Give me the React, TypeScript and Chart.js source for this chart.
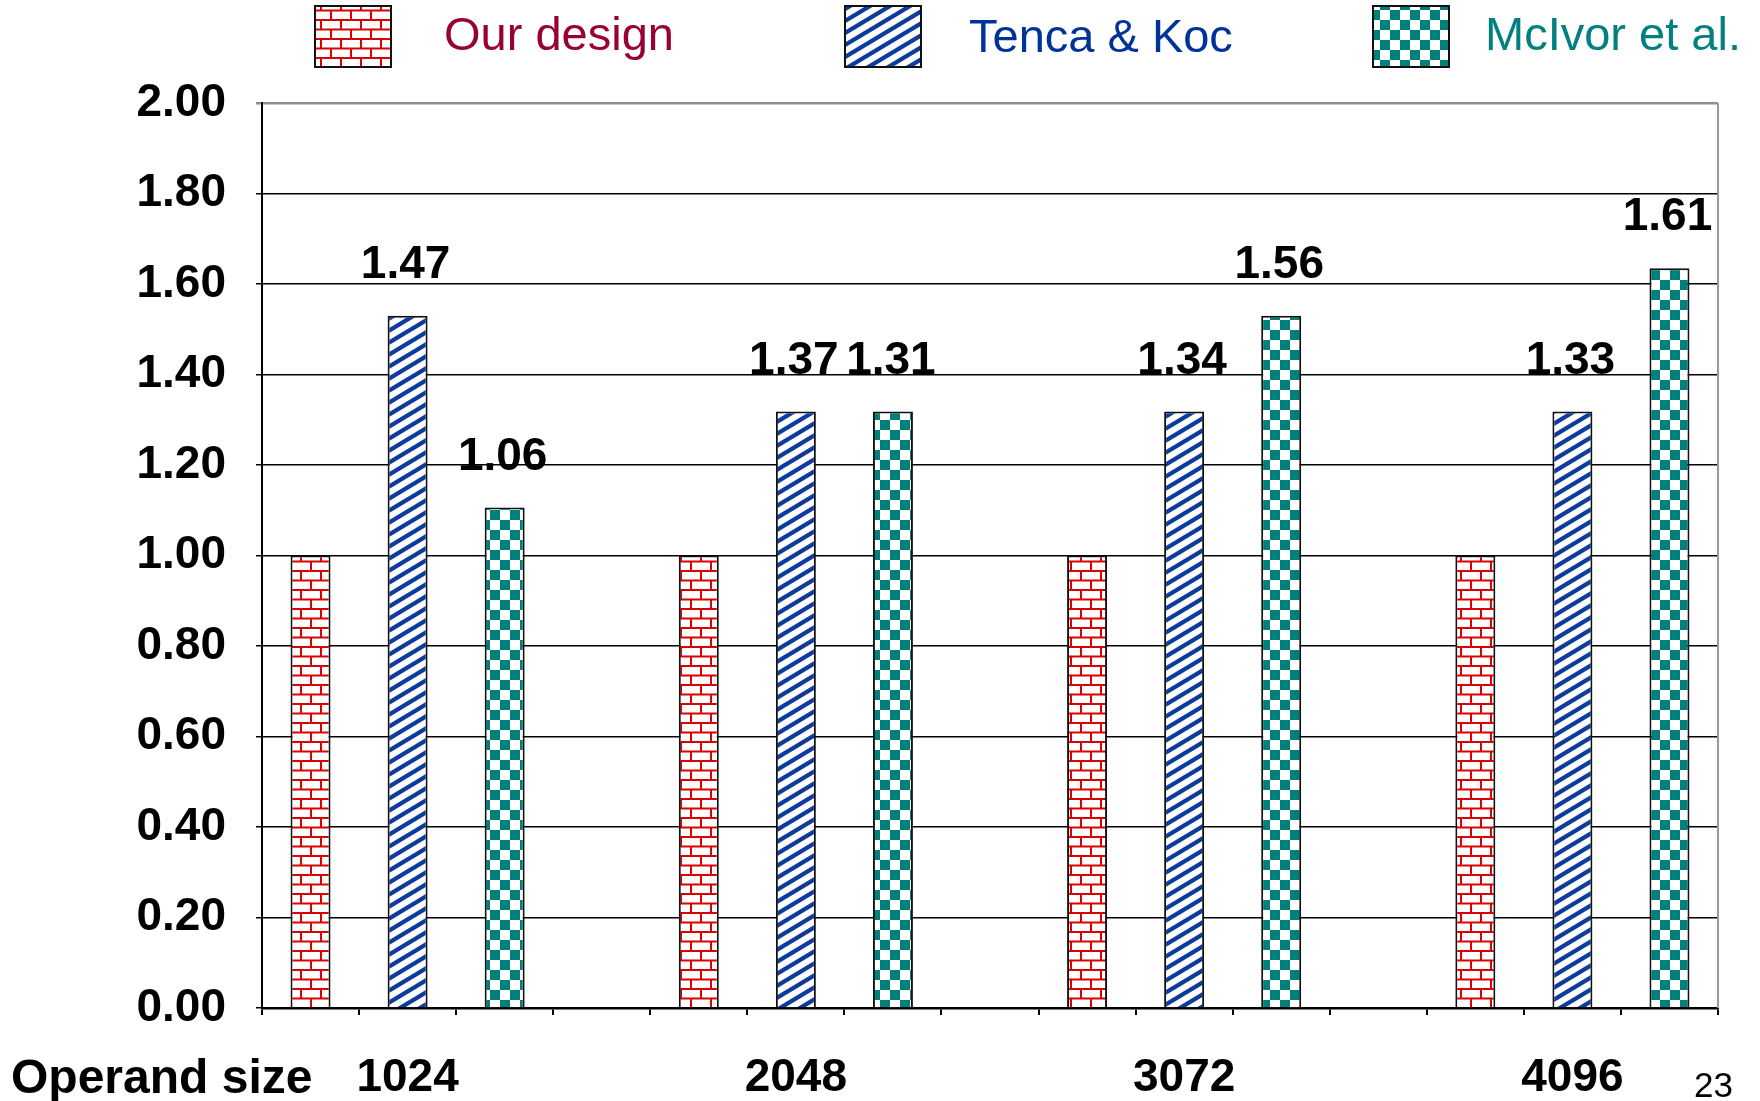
import React, { useEffect, useRef } from "react";
import { Chart, registerables } from "chart.js";

Chart.register(...registerables);

// ---------------- data ----------------
const operandSizes = ["1024", "2048", "3072", "4096"];
const seriesNames = ["Our design", "Tenca & Koc", "McIvor et al."];
const ourDesign = [1.0, 1.0, 1.0, 1.0];
const tencaKoc = [1.53, 1.318, 1.318, 1.318];
const mcIvor = [1.106, 1.318, 1.53, 1.635];
const ourDesignLabels: string[] = ["", "", "", ""];
const tencaKocLabels = ["1.47", "1.37", "1.34", "1.33"];
const mcIvorLabels = ["1.06", "1.31", "1.56", "1.61"];
const yMin = 0;
const yMax = 2;
const yStep = 0.2;
const xAxisTitle = "Operand size";
const pageNumber = "23";

const seriesValues = [ourDesign, tencaKoc, mcIvor];
const seriesLabels = [ourDesignLabels, tencaKocLabels, mcIvorLabels];
const seriesTextColors = ["#990033", "#003399", "#008080"];

const FONT = '"Liberation Sans", Arial, Helvetica, sans-serif';

// each operand size occupies 3 bar slots followed by one empty slot
const SLOTS_PER_GROUP = seriesNames.length + 1;
const SLOT_COUNT = operandSizes.length * SLOTS_PER_GROUP - 1;
const slotLabels = Array.from({ length: SLOT_COUNT }, (_, i) =>
  i % SLOTS_PER_GROUP === 1 ? operandSizes[Math.floor(i / SLOTS_PER_GROUP)] : ""
);
function toSlots(values: number[], seriesIdx: number): (number | null)[] {
  const arr: (number | null)[] = Array(SLOT_COUNT).fill(null);
  values.forEach((v, g) => {
    arr[g * SLOTS_PER_GROUP + seriesIdx] = v;
  });
  return arr;
}

// ---------------- patterns ----------------
function makeTile(w: number, h: number, draw: (c: CanvasRenderingContext2D) => void) {
  const cv = document.createElement("canvas");
  cv.width = w;
  cv.height = h;
  const c = cv.getContext("2d")!;
  c.fillStyle = "#ffffff";
  c.fillRect(0, 0, w, h);
  draw(c);
  return c.createPattern(cv, "repeat")!;
}

function brickPattern() {
  return makeTile(20, 19, (c) => {
    c.strokeStyle = "#dd0000";
    c.lineWidth = 2;
    c.beginPath();
    c.moveTo(0, 1);
    c.lineTo(20, 1);
    c.moveTo(0, 10.5);
    c.lineTo(20, 10.5);
    c.moveTo(1, 1);
    c.lineTo(1, 10.5);
    c.moveTo(11, 10.5);
    c.lineTo(11, 20);
    c.stroke();
  });
}

function stripePattern() {
  const W = 20;
  const H = 12;
  return makeTile(W, H, (c) => {
    c.strokeStyle = "#0d3b9e";
    c.lineWidth = 4.2;
    c.beginPath();
    for (let n = -1; n <= 1; n++) {
      const x0 = -2;
      const x1 = W + 2;
      c.moveTo(x0, H - (H / W) * x0 + n * H);
      c.lineTo(x1, H - (H / W) * x1 + n * H);
    }
    c.stroke();
  });
}

function checkerPattern() {
  return makeTile(20, 20, (c) => {
    c.fillStyle = "#00807a";
    c.fillRect(0, 0, 10, 10);
    c.fillRect(10, 10, 10, 10);
  });
}

// ---------------- overlay plugin (labels, legend, texts) ----------------
const legendBoxX = [315, 845, 1373];
const legendTextX = [444, 969, 1485];
const legendBaseline = [50, 52, 50];

function makeOverlay(patterns: CanvasPattern[]) {
  return {
    id: "overlay",
    beforeDatasetsDraw(chart: any) {
      const { ctx, chartArea: a } = chart;
      ctx.save();
      ctx.strokeStyle = "#9a9a9a";
      ctx.lineWidth = 2;
      ctx.beginPath();
      ctx.moveTo(a.right, a.top);
      ctx.lineTo(a.right, a.bottom);
      ctx.stroke();
      ctx.restore();
    },
    afterDraw(chart: any) {
      const { ctx } = chart;
      ctx.save();
      // value labels
      ctx.fillStyle = "#000";
      ctx.font = `bold 46px ${FONT}`;
      ctx.textAlign = "center";
      ctx.textBaseline = "alphabetic";
      seriesLabels.forEach((labels, s) => {
        const meta = chart.getDatasetMeta(s);
        labels.forEach((txt, g) => {
          if (!txt) return;
          const el = meta.data[g * SLOTS_PER_GROUP + s];
          if (!el) return;
          ctx.fillText(txt, el.x - 2, el.y - 38);
        });
      });

      // legend
      seriesNames.forEach((name, i) => {
        const x = legendBoxX[i];
        ctx.fillStyle = patterns[i];
        ctx.fillRect(x, 6, 76, 61);
        ctx.strokeStyle = "#111";
        ctx.lineWidth = 2;
        ctx.strokeRect(x, 6, 76, 61);
        ctx.fillStyle = seriesTextColors[i];
        ctx.font = `47px ${FONT}`;
        ctx.textAlign = "left";
        ctx.fillText(name, legendTextX[i], legendBaseline[i]);
      });

      // axis title
      ctx.fillStyle = "#000";
      ctx.font = `bold 48px ${FONT}`;
      ctx.textAlign = "left";
      ctx.fillText(xAxisTitle, 11, 1093);

      // page number
      ctx.font = `35px ${FONT}`;
      ctx.textAlign = "right";
      ctx.fillText(pageNumber, 1733, 1097);
      ctx.restore();
    },
  };
}

export default function App() {
  const ref = useRef<HTMLCanvasElement | null>(null);

  useEffect(() => {
    const canvas = ref.current;
    if (!canvas) return;
    const patterns = [brickPattern(), stripePattern(), checkerPattern()];

    const chart = new Chart(canvas, {
      type: "bar",
      data: {
        labels: slotLabels,
        datasets: seriesNames.map((name, i) => ({
          label: name,
          data: toSlots(seriesValues[i], i),
          backgroundColor: patterns[i],
          borderColor: "#111",
          borderWidth: 2,
          grouped: false,
          barPercentage: 0.412,
          categoryPercentage: 1,
        })) as any,
      },
      options: {
        responsive: false,
        animation: false,
        events: [],
        layout: { padding: { top: 103, right: 42, left: 0, bottom: 0 } },
        plugins: {
          legend: { display: false },
          tooltip: { enabled: false },
          title: { display: false },
        },
        scales: {
          x: {
            type: "category",
            grid: {
              drawOnChartArea: false,
              drawTicks: true,
              tickLength: 7,
              color: "#000",
              lineWidth: 2,
              offset: true,
            },
            border: { display: true, color: "#000", width: 2.5 },
            ticks: {
              autoSkip: false,
              maxRotation: 0,
              minRotation: 0,
              padding: 36,
              color: "#000",
              font: { family: FONT, size: 46, weight: "bold" },
            },
            afterFit: (s: any) => {
              s.height = 93;
            },
          },
          y: {
            min: yMin,
            max: yMax,
            ticks: {
              stepSize: yStep,
              padding: 30,
              color: "#000",
              font: { family: FONT, size: 46, weight: "bold" },
              callback: (v: any) => Number(v).toFixed(2),
            },
            grid: {
              drawTicks: true,
              tickLength: 6,
              color: (c: any) => (c.tick && Math.abs(c.tick.value - yMax) < 1e-9 ? "#8f8f8f" : "#000"),
              lineWidth: (c: any) => (c.tick && Math.abs(c.tick.value - yMax) < 1e-9 ? 2.5 : 1.5),
            },
            border: { display: true, color: "#000", width: 2 },
            afterFit: (s: any) => {
              s.width = 262;
            },
          },
        },
      },
      plugins: [makeOverlay(patterns)],
    });
    return () => chart.destroy();
  }, []);

  return (
    <div style={{ position: "absolute", left: 0, top: 0, width: 1760, height: 1101, background: "#fff" }}>
      <canvas ref={ref} width={1760} height={1101} style={{ display: "block" }} />
    </div>
  );
}
